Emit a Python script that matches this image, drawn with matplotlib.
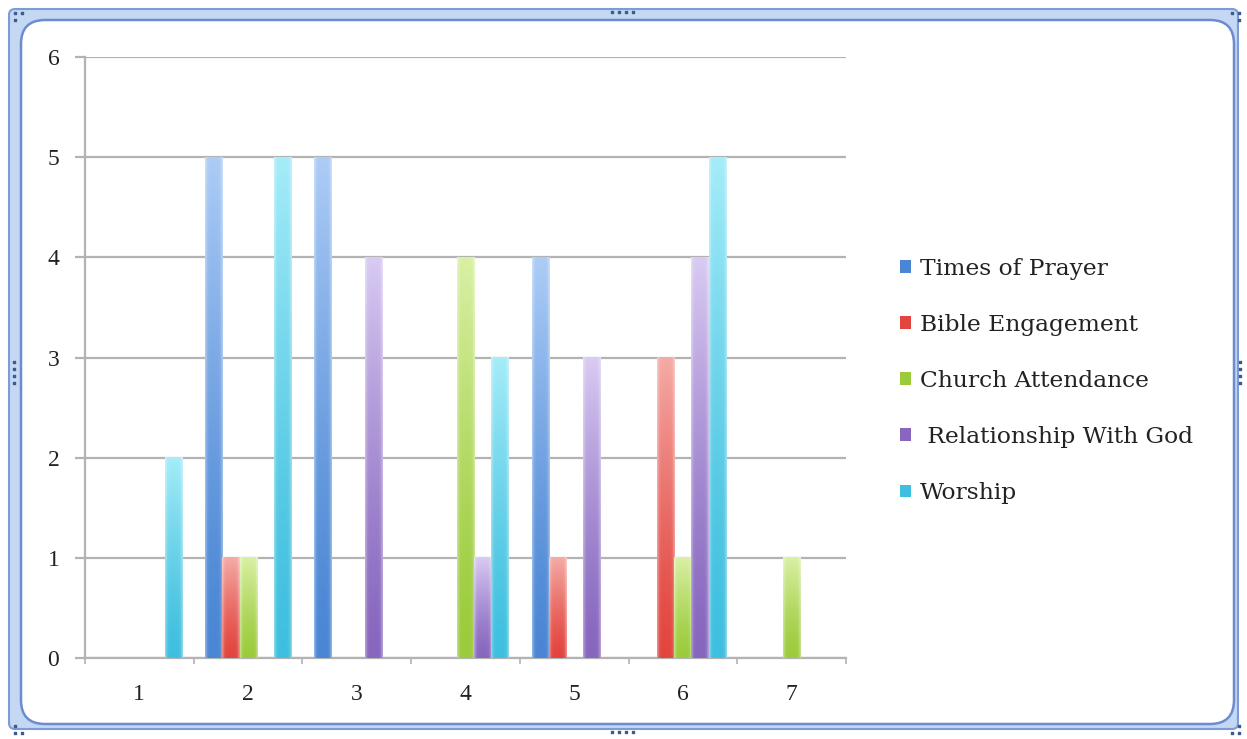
import matplotlib
matplotlib.use("Agg")
import matplotlib.pyplot as plt
from matplotlib.patches import FancyBboxPatch, Rectangle
import numpy as np

# survey answers per question number
categories = [1, 2, 3, 4, 5, 6, 7]
series_names = ["Times of Prayer", "Bible Engagement", "Church Attendance",
                " Relationship With God", "Worship"]
prayer = [0, 5, 5, 0, 4, 0, 0]
bible = [0, 1, 0, 0, 1, 3, 0]
church = [0, 1, 0, 4, 0, 1, 1]
relationship = [0, 0, 4, 1, 3, 4, 0]
worship = [2, 5, 0, 3, 0, 5, 0]
values = [prayer, bible, church, relationship, worship]

# (bottom colour, top colour) for the gradient fill of each series
bar_colors = [("#4a86d4", "#acccf6"),
              ("#e2453e", "#f5aaa6"),
              ("#9bcb3b", "#d9f0a4"),
              ("#8766be", "#d8caf2"),
              ("#3fbfdf", "#a4ecf8")]

plt.rcParams['font.family'] = ['Liberation Serif', 'DejaVu Serif']

W, H = 1247, 739
fig = plt.figure(figsize=(W / 100, H / 100), dpi=100)
fig.patch.set_facecolor("white")

# window frame drawn in pixel coordinates
bg = fig.add_axes([0, 0, 1, 1], zorder=0)
bg.set_xlim(0, W)
bg.set_ylim(H, 0)
bg.axis("off")
bg.add_patch(FancyBboxPatch((9, 9), W - 18, H - 19, boxstyle="round,pad=0,rounding_size=6",
                            fc="#c4d7f3", ec="#7d9bd6", lw=1.5))
bg.add_patch(FancyBboxPatch((21, 20), W - 34, H - 35, boxstyle="round,pad=0,rounding_size=24",
                            fc="white", ec="#6d8bcf", lw=1.8))
grip = "#3d5c8c"
bg.scatter([612, 619, 626, 633], [12, 12, 12, 12], marker="s", s=4, color=grip)
bg.scatter([612, 619, 626, 633], [732, 732, 732, 732], marker="s", s=4, color=grip)
bg.scatter([14, 14, 14, 14], [362, 369, 376, 383], marker="s", s=4, color=grip)
bg.scatter([1240, 1240, 1240, 1240], [362, 369, 376, 383], marker="s", s=4, color=grip)
bg.scatter([15, 22, 15], [13, 13, 20], marker="s", s=4, color=grip)
bg.scatter([1232, 1239, 1239], [13, 13, 20], marker="s", s=4, color=grip)
bg.scatter([15, 15, 22], [726, 733, 733], marker="s", s=4, color=grip)
bg.scatter([1239, 1232, 1239], [726, 733, 733], marker="s", s=4, color=grip)

ax = fig.add_axes([85 / W, 81 / H, 761 / W, 601 / H], zorder=1)
ax.set_facecolor("none")

x = np.arange(len(categories))
bw = 0.157
grid_c = "#b3b3b3"

for i, (vals, name) in enumerate(zip(values, series_names)):
    bottom_c, top_c = bar_colors[i]
    bars = ax.bar(x + (i - 2) * bw, vals, width=bw, color=bottom_c, label=name,
                  linewidth=0, zorder=2)
    c0 = np.array(matplotlib.colors.to_rgb(bottom_c))
    c1 = np.array(matplotlib.colors.to_rgb(top_c))
    for rect in bars:
        h = rect.get_height()
        if h <= 0:
            continue
        t = np.linspace(0, 1, 64)[:, None, None]
        col = c0 + (c1 - c0) * t ** 1.3
        col = np.repeat(col, 12, axis=1)
        # slightly lighter edges on each side of the bar
        edge = np.abs(np.linspace(-1, 1, 12))[None, :, None] ** 6
        col = col + (1 - col) * 0.35 * edge
        ax.imshow(np.clip(col, 0, 1), extent=[rect.get_x(), rect.get_x() + rect.get_width(), 0, h],
                  origin="lower", aspect="auto", interpolation="bilinear", zorder=3)

ax.set_xlim(-0.5, len(categories) - 0.5)
ax.set_ylim(0, 6)
ax.set_yticks(range(0, 7))
ax.yaxis.grid(True, color=grid_c, linewidth=1.6, zorder=0)
ax.set_axisbelow(True)

for side in ("top", "right"):
    ax.spines[side].set_visible(False)
for side in ("left", "bottom"):
    ax.spines[side].set_color(grid_c)
    ax.spines[side].set_linewidth(1.6)

ax.set_xticks(x)
ax.set_xticklabels([str(c) for c in categories])
ax.set_xticks(np.arange(len(categories) + 1) - 0.5, minor=True)
ax.tick_params(axis="x", which="major", length=0, pad=19, labelsize=17, labelcolor="#222222")
ax.tick_params(axis="x", which="minor", length=4, width=1.2, color=grid_c, direction="out")
ax.tick_params(axis="y", length=7.5, width=1.6, color=grid_c, pad=11, labelsize=17,
               labelcolor="#222222")

handles = [Rectangle((0, 0), 1, 1, fc=c[0], ec="none") for c in bar_colors]
fig.legend(handles, series_names, loc="center left", bbox_to_anchor=(879 / W, 1 - 381 / H),
           frameon=False, prop={"family": "DejaVu Serif", "size": 16.8},
           handlelength=0.45, handleheight=0.45, handletextpad=0.42, labelspacing=1.46,
           labelcolor="#222222")

fig.savefig("out.png", dpi=100)
